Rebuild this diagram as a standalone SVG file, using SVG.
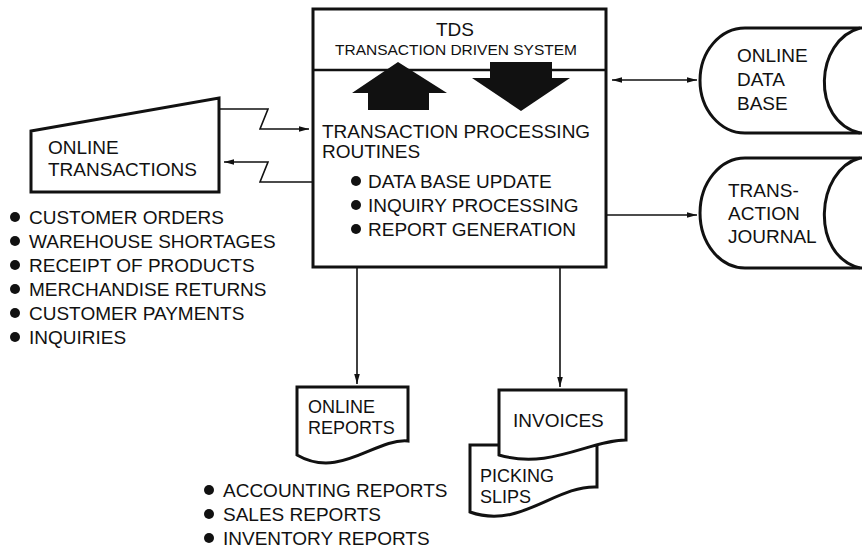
<svg xmlns="http://www.w3.org/2000/svg" width="862" height="549" viewBox="0 0 862 549">
<defs>
<style>
text{font-family:"Liberation Sans",Arial,Helvetica,sans-serif;fill:#111;font-size:19px}
.shape{fill:#fff;stroke:#111;stroke-width:3;stroke-linejoin:miter}
.conn{fill:none;stroke:#111;stroke-width:1.6}
.solid{fill:#111;stroke:none}
.mid{text-anchor:middle}
.sm{font-size:18px}
</style>
<marker id="ah" markerUnits="userSpaceOnUse" markerWidth="12" markerHeight="8" refX="10" refY="4" orient="auto-start-reverse">
<path d="M0 1.2 L10 4 L0 6.8 Z" fill="#111"/>
</marker>
</defs>
<rect width="862" height="549" fill="#fff"/>

<g id="connectors">
<path class="conn" d="M219 109 H268 L260 129 H309" marker-end="url(#ah)"/>
<path class="conn" d="M313 182 H260 L268 162 H224" marker-end="url(#ah)"/>
<line class="conn" x1="612" y1="80" x2="697" y2="80" marker-start="url(#ah)" marker-end="url(#ah)"/>
<line class="conn" x1="606" y1="215" x2="697" y2="215" marker-end="url(#ah)"/>
<line class="conn" x1="357" y1="267" x2="357" y2="384" marker-end="url(#ah)"/>
<line class="conn" x1="560" y1="267" x2="560" y2="387" marker-end="url(#ah)"/>
</g>

<g id="tds">
<rect class="shape" x="313" y="9" width="293" height="258"/>
<line x1="313" y1="70" x2="606" y2="70" stroke="#111" stroke-width="2.5"/>
<text class="mid" x="455" y="36">TDS</text>
<text class="mid" x="456" y="55" style="font-size:15.5px">TRANSACTION DRIVEN SYSTEM</text>
<path class="solid" d="M398 62 L447 93 L429 93 L429 110 L368 110 L368 93 L352 93 Z"/>
<path class="solid" d="M490 62 L552 62 L552 78 L570 78 L521 111 L472 78 L490 78 Z"/>
<text x="322" y="138">TRANSACTION PROCESSING</text>
<text x="322" y="158">ROUTINES</text>
<circle class="solid" cx="356" cy="181" r="5"/>
<text x="368" y="188">DATA BASE UPDATE</text>
<circle class="solid" cx="356" cy="205" r="5"/>
<text x="368" y="212">INQUIRY PROCESSING</text>
<circle class="solid" cx="356" cy="229" r="5"/>
<text x="368" y="236">REPORT GENERATION</text>
</g>

<g id="online-transactions">
<path class="shape" d="M31 131 L219 98 L219 192 L31 192 Z"/>
<text x="48" y="154">ONLINE</text>
<text x="48" y="176">TRANSACTIONS</text>
</g>

<g id="transaction-list">
<circle class="solid" cx="15" cy="217" r="5"/>
<text x="29" y="224">CUSTOMER ORDERS</text>
<circle class="solid" cx="15" cy="241" r="5"/>
<text x="29" y="248">WAREHOUSE SHORTAGES</text>
<circle class="solid" cx="15" cy="265" r="5"/>
<text x="29" y="272">RECEIPT OF PRODUCTS</text>
<circle class="solid" cx="15" cy="289" r="5"/>
<text x="29" y="296">MERCHANDISE RETURNS</text>
<circle class="solid" cx="15" cy="313" r="5"/>
<text x="29" y="320">CUSTOMER PAYMENTS</text>
<circle class="solid" cx="15" cy="337" r="5"/>
<text x="29" y="344">INQUIRIES</text>
</g>

<g id="online-data-base">
<path class="shape" d="M870 28 H745 A45 52.5 0 0 0 745 133 H870"/>
<path class="conn" style="stroke-width:3" d="M860 28 C815 40, 810 121, 860 133"/>
<text x="737" y="62">ONLINE</text>
<text x="737" y="86">DATA</text>
<text x="737" y="110">BASE</text>
</g>

<g id="transaction-journal">
<path class="shape" d="M870 158 H745 A45 55 0 0 0 745 268 H870"/>
<path class="conn" style="stroke-width:3" d="M860 158 C815 170, 810 256, 860 268"/>
<text x="728" y="197">TRANS-</text>
<text x="728" y="220">ACTION</text>
<text x="728" y="243">JOURNAL</text>
</g>

<g id="online-reports">
<path class="shape" d="M297 387 H408 V441 C375 438, 340 480, 297 455 Z"/>
<text class="sm" x="308" y="413">ONLINE</text>
<text class="sm" x="308" y="434">REPORTS</text>
</g>

<g id="picking-slips">
<path class="shape" d="M470 445 H597 V487 C555 485, 520 530, 470 512 Z"/>
<text class="sm" x="480" y="482">PICKING</text>
<text class="sm" x="480" y="503">SLIPS</text>
</g>

<g id="invoices">
<path class="shape" d="M499 390 H626 V440 C590 440, 550 470, 499 455 Z"/>
<text x="513" y="427">INVOICES</text>
</g>

<g id="report-list">
<circle class="solid" cx="209" cy="490" r="5"/>
<text x="223" y="497">ACCOUNTING REPORTS</text>
<circle class="solid" cx="209" cy="514" r="5"/>
<text x="223" y="521">SALES REPORTS</text>
<circle class="solid" cx="209" cy="538" r="5"/>
<text x="223" y="545">INVENTORY REPORTS</text>
</g>
</svg>
